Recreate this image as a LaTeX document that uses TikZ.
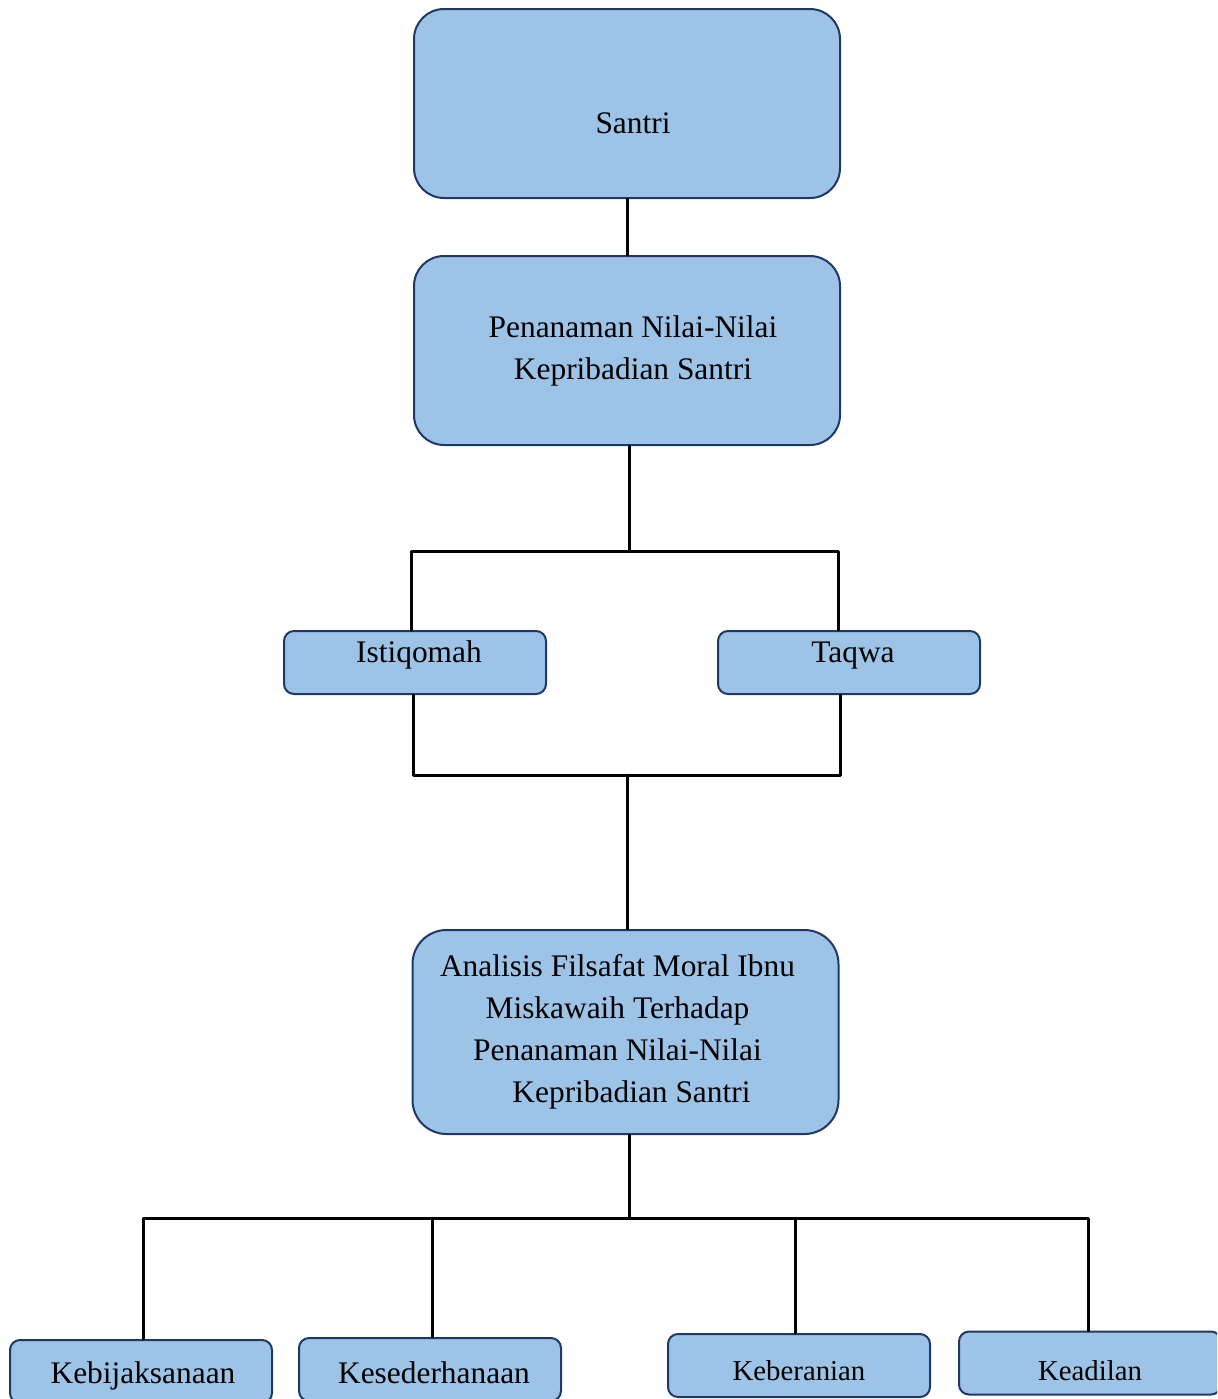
\documentclass[tikz,border=0pt]{standalone}
\usepackage{fontspec}
\setmainfont{Liberation Serif}
\usetikzlibrary{calc}

\definecolor{boxfill}{RGB}{157,195,230}
\definecolor{boxline}{RGB}{32,56,100}

\begin{document}
\begin{tikzpicture}[line cap=round,line join=round,x=0.5pt,y=0.5pt,
    bigbox/.style={rectangle,rounded corners=15pt,draw=boxline,fill=boxfill,line width=1pt,
        inner sep=0pt,minimum width=213pt,minimum height=94.5pt,align=center,
        font=\fontsize{15.7}{21}\selectfont},
    smallbox/.style={rectangle,rounded corners=5pt,draw=boxline,fill=boxfill,line width=1pt,
        inner sep=0pt,minimum width=131pt,minimum height=31.5pt,
        font=\fontsize{15.7}{21}\selectfont},
    conn/.style={line width=1.5pt,black}]
    \useasboundingbox (0,0) rectangle (1217,-1399);
    \clip (0,0) rectangle (1217,-1399);

    % top of the chart
    \node[bigbox,text height=29.5pt,text depth=0pt] (santri) at (627,-103.5) {\hspace*{6pt}Santri};
    \node[bigbox] (pen) at (627,-350.5) {\hspace*{6pt}Penanaman Nilai-Nilai\\ \hspace*{6pt}Kepribadian Santri};

    % the two values
    \node[smallbox,text height=10pt,text depth=10pt] (istq) at (415,-662.5) {\hspace*{4pt}Istiqomah};
    \node[smallbox,text height=10pt,text depth=10pt] (taqwa) at (849,-662.5) {\hspace*{4pt}Taqwa};

    \node[bigbox,minimum height=102pt,rounded corners=17pt] (anal) at (625.5,-1032)
        {Analisis Filsafat Moral Ibnu\hspace*{8pt}\\ \hspace*{-8pt}Miskawaih Terhadap\\ \hspace*{-8pt}Penanaman Nilai-Nilai\\ \hspace*{14pt}Kepribadian Santri\hspace*{8pt}};

    % the four virtues
    \node[smallbox,text height=14.5pt,text depth=2.5pt] (kebi) at (141,-1371.5) {\hspace*{2pt}Kebijaksanaan};
    \node[smallbox,text height=15.5pt,text depth=2pt] (kese) at (430,-1369.5) {\hspace*{4pt}Kesederhanaan};
    \node[smallbox,text height=17pt,text depth=2pt,font=\fontsize{14.4}{18}\selectfont] (keber) at (799,-1365.5) {Keberanian};
    \node[smallbox,text height=19pt,text depth=2pt,font=\fontsize{14.4}{18}\selectfont] (keadil) at (1090,-1363) {Keadilan};

    \coordinate (jA) at (629,-551);
    \coordinate (jB) at (627,-775);
    \coordinate (jC) at (629.5,-1218);

    \draw[conn] (santri.south) -- (pen.north);
    \draw[conn] ([xshift=1pt]pen.south) -- (jA);
    \draw[conn] (jA) -| ([xshift=-2pt]istq.north);
    \draw[conn] (jA) -| ([xshift=-5.5pt]taqwa.north);
    \draw[conn] ([xshift=-1pt]istq.south) |- (jB);
    \draw[conn] ([xshift=-4.5pt]taqwa.south) |- (jB);
    \draw[conn] (jB) -- ([xshift=0.75pt]anal.north);
    \draw[conn] ([xshift=2pt]anal.south) -- (jC);
    \draw[conn] (jC) -| ([xshift=1pt]kebi.north);
    \draw[conn] (jC) -| ([xshift=1pt]kese.north);
    \draw[conn] (jC) -| ([xshift=-2pt]keber.north);
    \draw[conn] (jC) -| ([xshift=-1pt]keadil.north);

\end{tikzpicture}
\end{document}
